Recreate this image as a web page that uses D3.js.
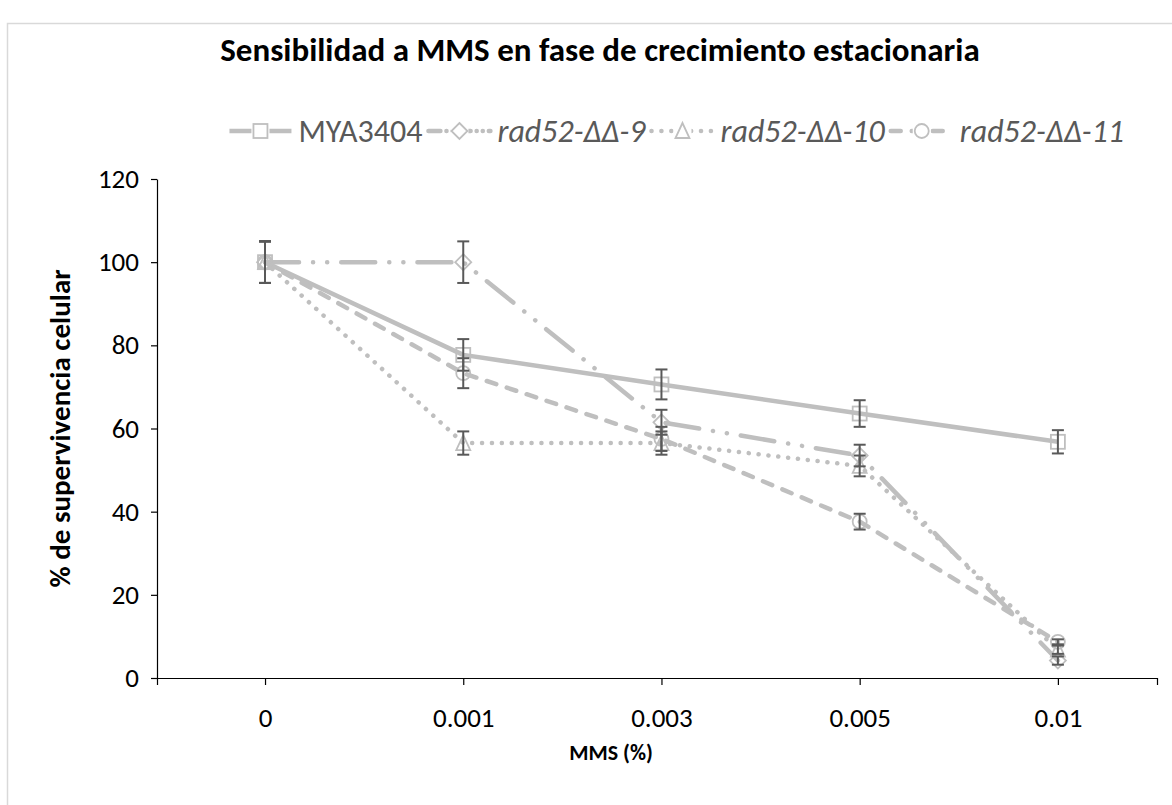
<!DOCTYPE html>
<html>
<head>
<meta charset="utf-8">
<script src="https://cdn.jsdelivr.net/npm/d3@7"></script>
<style>
  body { margin: 0; background: #fff; }
  svg { display: block; font-family: Carlito, Calibri, Lato, sans-serif; }
</style>
</head>
<body>
<svg id="chart"></svg>
<script>
// values
const doses = ["0", "0.001", "0.003", "0.005", "0.01"];
const seriesNames = ["MYA3404", "rad52-ΔΔ-9", "rad52-ΔΔ-10", "rad52-ΔΔ-11"];
const mya3404 = [100, 77.7, 70.6, 63.6, 56.8];
const mya3404Err = [5, 3.8, 3.6, 3.2, 2.8];
const rad52_9 = [100, 100, 61.5, 53.5, 4.2];
const rad52_9Err = [5, 5, 3, 2.6, 1];
const rad52_10 = [100, 56.5, 56.5, 51, 6.8];
const rad52_10Err = [5, 2.8, 2.8, 2.5, 1];
const rad52_11 = [100, 73.3, 57.5, 37.6, 8.7];
const rad52_11Err = [5, 3.6, 2.9, 1.9, 0.6];
const yTicks = [0, 20, 40, 60, 80, 100, 120];

const width = 1172;
const height = 805;
const plotLeft = 157;
const plotRight = 1157;
const plotTop = 179;
const plotBottom = 678;
const fontFamily = "Carlito, Calibri, Lato, sans-serif";

const lineColor = "#bfbfbf";
const errColor = "#595959";

const series = [
  { name: seriesNames[0], values: mya3404, err: mya3404Err, dash: null, marker: "square", italic: false },
  { name: seriesNames[1], values: rad52_9, err: rad52_9Err, dash: "34 14 0.1 14 0.1 14", marker: "diamond", italic: true },
  { name: seriesNames[2], values: rad52_10, err: rad52_10Err, dash: "0.1 9.8", marker: "triangle", italic: true },
  { name: seriesNames[3], values: rad52_11, err: rad52_11Err, dash: "10 11", marker: "circle", italic: true },
];

const svg = d3.select("#chart")
  .attr("width", width)
  .attr("height", height)
  .attr("viewBox", [0, 0, width, height]);

// chart border (the picture is cut off on the right and bottom)
svg.append("rect")
  .attr("x", 7.5).attr("y", 23.5)
  .attr("width", 1250).attr("height", 850)
  .attr("fill", "#fff")
  .attr("stroke", "#d9d9d9")
  .attr("stroke-width", 1.5);

// category index -> x; points sit at 0..4, axis runs a bit past each end
const x = d3.scaleLinear([-0.545, 4.5], [plotLeft, plotRight]);
const y = d3.scaleLinear([0, 120], [plotBottom, plotTop]);

// y axis
svg.append("g")
  .attr("transform", `translate(${plotLeft},0)`)
  .call(d3.axisLeft(y).tickValues(yTicks).tickSize(6).tickSizeOuter(0).tickPadding(12))
  .call(g => g.select(".domain").attr("stroke", "#000").attr("stroke-width", 1.2))
  .call(g => g.selectAll(".tick line").attr("stroke", "#000").attr("stroke-width", 1.2))
  .call(g => g.selectAll(".tick text")
    .attr("font-size", 27)
    .attr("fill", "#000")
    .style("font-family", fontFamily));

// x axis: ticks at category centres plus the ends
svg.append("g")
  .attr("transform", `translate(0,${plotBottom})`)
  .call(d3.axisBottom(x).tickValues(d3.range(doses.length)).tickFormat(i => doses[i])
    .tickSize(7).tickSizeOuter(7).tickPadding(23))
  .call(g => g.select(".domain").attr("stroke", "#000").attr("stroke-width", 1.2))
  .call(g => g.selectAll(".tick line").attr("stroke", "#000").attr("stroke-width", 1.2))
  .call(g => g.selectAll(".tick text")
    .attr("font-size", 27)
    .attr("fill", "#000")
    .style("font-family", fontFamily));

// titles
svg.append("text")
  .attr("x", 600).attr("y", 61)
  .attr("text-anchor", "middle")
  .attr("font-size", 33).attr("font-weight", "bold")
  .text("Sensibilidad a MMS en fase de crecimiento estacionaria");

svg.append("text")
  .attr("x", 611).attr("y", 760)
  .attr("text-anchor", "middle")
  .attr("font-size", 22).attr("font-weight", "bold")
  .text("MMS (%)");

svg.append("text")
  .attr("transform", `translate(70,${(plotTop + plotBottom) / 2}) rotate(-90)`)
  .attr("text-anchor", "middle")
  .attr("font-size", 29).attr("font-weight", "bold")
  .text("% de supervivencia celular");

function drawMarker(g, type, cx, cy) {
  const s = 7;
  const common = el => el.attr("fill", "none").attr("stroke", lineColor).attr("stroke-width", 1.8);
  if (type === "square") {
    common(g.append("rect").attr("x", cx - s).attr("y", cy - s).attr("width", 2 * s).attr("height", 2 * s));
  } else if (type === "circle") {
    common(g.append("circle").attr("cx", cx).attr("cy", cy).attr("r", s));
  } else if (type === "diamond") {
    common(g.append("path").attr("d", `M${cx},${cy - s - 1}L${cx + s + 1},${cy}L${cx},${cy + s + 1}L${cx - s - 1},${cy}Z`));
  } else {
    common(g.append("path").attr("d", `M${cx},${cy - s - 1}L${cx + s},${cy + s}L${cx - s},${cy + s}Z`));
  }
}

const line = d3.line()
  .x((d, i) => x(i))
  .y(d => y(d));

// lines
series.forEach(s => {
  svg.append("path")
    .attr("fill", "none")
    .attr("stroke", lineColor)
    .attr("stroke-width", 4.5)
    .attr("stroke-linecap", s.dash ? "round" : "butt")
    .attr("stroke-linejoin", "round")
    .attr("stroke-dasharray", s.dash)
    .attr("d", line(s.values));
});

// markers
series.forEach(s => {
  const g = svg.append("g");
  s.values.forEach((v, i) => drawMarker(g, s.marker, x(i), y(v)));
});

// error bars
series.forEach(s => {
  const g = svg.append("g").attr("stroke", errColor).attr("stroke-width", 2);
  s.values.forEach((v, i) => {
    const cx = x(i);
    const hi = y(v + s.err[i]);
    const lo = y(v - s.err[i]);
    g.append("line").attr("x1", cx).attr("x2", cx).attr("y1", hi).attr("y2", lo);
    g.append("line").attr("x1", cx - 6).attr("x2", cx + 6).attr("y1", hi).attr("y2", hi);
    g.append("line").attr("x1", cx - 6).attr("x2", cx + 6).attr("y1", lo).attr("y2", lo);
  });
});

// legend, laid out left to right and then right-aligned
const legendY = 131;
const sampleLen = 62;
const legend = svg.append("g");
let lx = 0;
series.forEach(s => {
  const g = legend.append("g");
  g.append("line")
    .attr("x1", lx).attr("x2", lx + sampleLen)
    .attr("y1", legendY).attr("y2", legendY)
    .attr("stroke", lineColor)
    .attr("stroke-width", 4.5)
    .attr("stroke-linecap", s.dash ? "round" : "butt")
    .attr("stroke-dasharray", s.dash ? (s.marker === "diamond" ? "12 6 0.1 6 0.1 6" : s.dash) : null);
  g.append("rect")
    .attr("x", lx + sampleLen / 2 - 9).attr("y", legendY - 9)
    .attr("width", 18).attr("height", 18)
    .attr("fill", "#fff");
  drawMarker(g, s.marker, lx + sampleLen / 2, legendY);
  const t = g.append("text")
    .attr("x", lx + sampleLen + 7).attr("y", legendY + 11)
    .attr("font-size", 32)
    .attr("fill", "#595959")
    .attr("font-style", s.italic ? "italic" : "normal")
    .text(s.name);
  lx += sampleLen + 7 + t.node().getComputedTextLength() + 6;
});
legend.attr("transform", `translate(${1130 - lx},0)`);
</script>
</body>
</html>
